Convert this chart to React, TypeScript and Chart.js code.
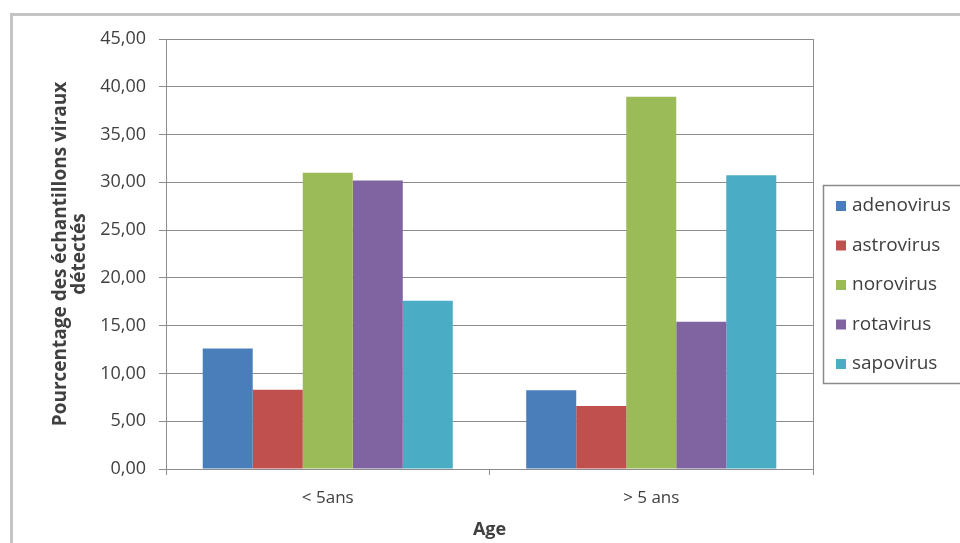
import React, { useEffect, useRef } from "react";
import { Chart, registerables } from "chart.js";

Chart.register(...registerables);

const categories = ["< 5ans", "> 5 ans"];
const seriesNames = ["adenovirus", "astrovirus", "norovirus", "rotavirus", "sapovirus"];
const adenovirus = [12.6, 8.25];
const astrovirus = [8.3, 6.6];
const norovirus = [31.0, 38.95];
const rotavirus = [30.2, 15.4];
const sapovirus = [17.6, 30.75];
const seriesColors = ["#4A7EBB", "#C0504D", "#9BBB59", "#8064A2", "#4BACC6"];
const yTitle = ["Pourcentage des échantillons viraux", "détectés"];
const xTitle = "Age";

const FONT = "'Open Sans', 'Noto Sans', sans-serif";
const GRID = "#8c8c8c";
const TEXT = "#404040";

const framePlugin = {
  id: "frame",
  beforeDraw(chart: any) {
    const ctx = chart.ctx;
    ctx.save();
    ctx.fillStyle = "#ffffff";
    ctx.fillRect(0, 0, chart.width, chart.height);
    ctx.strokeStyle = "#c4c4c4";
    ctx.lineWidth = 3;
    ctx.strokeRect(11.5, 14.5, chart.width + 20, chart.height + 20);
    ctx.restore();
  },
  afterDraw(chart: any) {
    const ctx = chart.ctx;
    const a = chart.chartArea;
    ctx.save();
    ctx.strokeStyle = GRID;
    ctx.lineWidth = 1;
    ctx.beginPath();
    ctx.moveTo(Math.round(a.right) + 0.5, a.top);
    ctx.lineTo(Math.round(a.right) + 0.5, a.bottom + 6);
    ctx.stroke();
    const lx = 823.5, ly = 185.5;
    ctx.strokeStyle = "#8a8a8a";
    ctx.lineWidth = 1.5;
    ctx.strokeRect(lx, ly, 200, 198);
    ctx.font = `19px ${FONT}`;
    ctx.textBaseline = "middle";
    ctx.textAlign = "left";
    chart.data.datasets.forEach((ds: any, i: number) => {
      const cy = 206 + i * 39.5;
      ctx.fillStyle = ds.backgroundColor;
      ctx.fillRect(836, cy - 5, 10, 10);
      ctx.fillStyle = TEXT;
      ctx.fillText(ds.label, 852, cy);
    });
    ctx.restore();
  },
};

export default function App() {
  const ref = useRef<HTMLCanvasElement | null>(null);
  useEffect(() => {
    if (!ref.current) return;
    const values = [adenovirus, astrovirus, norovirus, rotavirus, sapovirus];
    const chart = new Chart(ref.current, {
      type: "bar",
      data: {
        labels: categories,
        datasets: seriesNames.map((name, i) => ({
          label: name,
          data: values[i],
          backgroundColor: seriesColors[i],
          borderWidth: 0,
          categoryPercentage: 0.773,
          barPercentage: 1,
        })),
      },
      options: {
        animation: false,
        responsive: false,
        devicePixelRatio: 1,
        layout: { padding: { left: 0, right: 147, top: 39, bottom: 0 } },
        plugins: { legend: { display: false }, tooltip: { enabled: false } },
        scales: {
          x: {
            offset: true,
            grid: { drawOnChartArea: false, drawTicks: true, tickLength: 6, color: GRID, offset: true },
            border: { display: true, color: GRID },
            ticks: { color: TEXT, font: { family: FONT, size: 17 }, padding: 13 },
            title: {
              display: true,
              text: xTitle,
              color: TEXT,
              font: { family: FONT, size: 18, weight: "bold" },
              padding: { top: 0, bottom: 2 },
            },
            afterFit: (s: any) => { s.height = 74; },
          },
          y: {
            min: 0,
            max: 45,
            grid: { color: GRID, tickLength: 7, drawTicks: true },
            border: { display: true, color: GRID },
            ticks: {
              stepSize: 5,
              color: TEXT,
              padding: 13,
              font: { family: FONT, size: 18 },
              callback: (v: any) => Number(v).toFixed(2).replace(".", ","),
            },
            title: {
              display: true,
              text: yTitle,
              color: TEXT,
              font: { family: FONT, size: 19, weight: "bold", lineHeight: 1.0 },
              padding: { top: 51, bottom: 0 },
            },
            afterFit: (s: any) => { s.width = 166; },
          },
        },
      },
      plugins: [framePlugin],
    });
    return () => chart.destroy();
  }, []);
  return (
    <div style={{ position: "fixed", left: 0, top: 0, width: 960, height: 543, background: "#fff" }}>
      <canvas ref={ref} width={960} height={543} style={{ width: 960, height: 543, display: "block" }} />
    </div>
  );
}
